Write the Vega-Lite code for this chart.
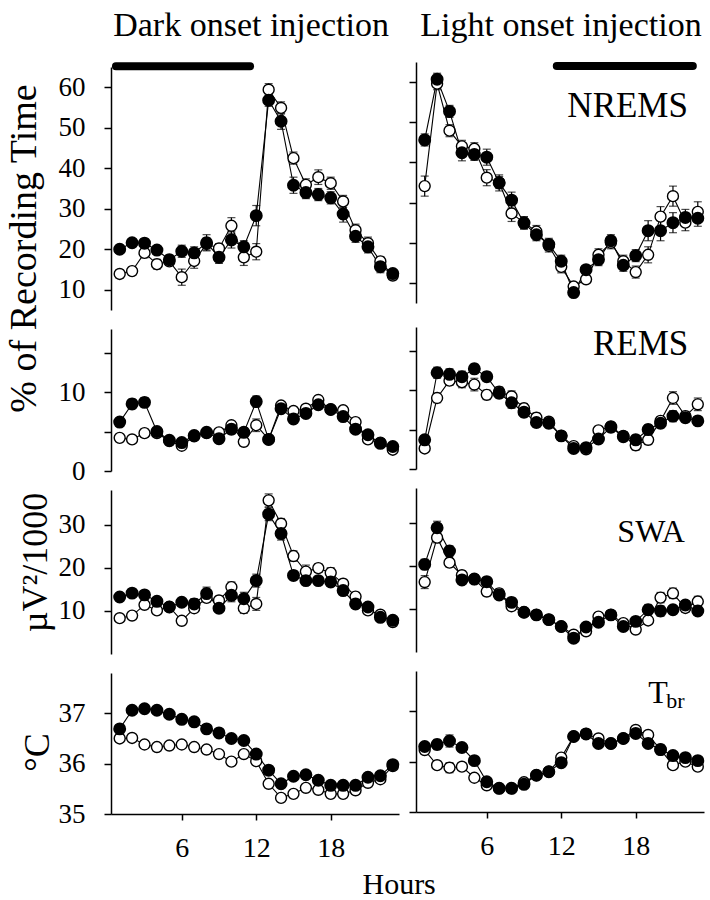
{
"$schema": "https://vega.github.io/schema/vega-lite/v6.json",
"background": "white",
"padding": {"left": 4, "top": 9, "right": 4, "bottom": 2},
"datasets": {
"nD": [
{"h":1,"s":"drug","v":20,"e":1},{"h":2,"s":"drug","v":21.6,"e":1},{"h":3,"s":"drug","v":21.5,"e":1},{"h":4,"s":"drug","v":19.8,"e":1},{"h":5,"s":"drug","v":17.4,"e":1.2},{"h":6,"s":"drug","v":19.5,"e":1.5},{"h":7,"s":"drug","v":19.1,"e":1.5},{"h":8,"s":"drug","v":21.6,"e":2},{"h":9,"s":"drug","v":18,"e":1.5},{"h":10,"s":"drug","v":22.3,"e":2},{"h":11,"s":"drug","v":20.6,"e":1.5},{"h":12,"s":"drug","v":28.3,"e":2.5},{"h":13,"s":"drug","v":56.8,"e":1.5},{"h":14,"s":"drug","v":51.6,"e":2},{"h":15,"s":"drug","v":35.8,"e":2},{"h":16,"s":"drug","v":34,"e":1.5},{"h":17,"s":"drug","v":33.5,"e":1.5},{"h":18,"s":"drug","v":32.7,"e":1.5},{"h":19,"s":"drug","v":28.7,"e":2},{"h":20,"s":"drug","v":23.2,"e":1.5},{"h":21,"s":"drug","v":20.6,"e":1.5},{"h":22,"s":"drug","v":15.7,"e":1.5},{"h":23,"s":"drug","v":14,"e":1},
{"h":1,"s":"vehicle","v":13.9,"e":1},{"h":2,"s":"vehicle","v":14.6,"e":1},{"h":3,"s":"vehicle","v":19.1,"e":1.2},{"h":4,"s":"vehicle","v":16.3,"e":1.2},{"h":5,"s":"vehicle","v":17,"e":1},{"h":6,"s":"vehicle","v":13.1,"e":2},{"h":7,"s":"vehicle","v":17.1,"e":1.8},{"h":8,"s":"vehicle","v":21.3,"e":1.5},{"h":9,"s":"vehicle","v":20.2,"e":1.2},{"h":10,"s":"vehicle","v":25.8,"e":2},{"h":11,"s":"vehicle","v":18,"e":2},{"h":12,"s":"vehicle","v":19.4,"e":2},{"h":13,"s":"vehicle","v":59.4,"e":1.5},{"h":14,"s":"vehicle","v":54.9,"e":1.5},{"h":15,"s":"vehicle","v":42.5,"e":1.5},{"h":16,"s":"vehicle","v":35.9,"e":1.5},{"h":17,"s":"vehicle","v":37.8,"e":1.8},{"h":18,"s":"vehicle","v":36.3,"e":1.5},{"h":19,"s":"vehicle","v":31.8,"e":1.5},{"h":20,"s":"vehicle","v":24.7,"e":1.5},{"h":21,"s":"vehicle","v":21.5,"e":1.5},{"h":22,"s":"vehicle","v":17,"e":1.2},{"h":23,"s":"vehicle","v":13.5,"e":1}
],
"nL": [
{"h":1,"s":"drug","v":45.6,"e":1.5},{"h":2,"s":"drug","v":60.7,"e":1.5},{"h":3,"s":"drug","v":52.7,"e":1.5},{"h":4,"s":"drug","v":42.4,"e":2},{"h":5,"s":"drug","v":42,"e":1.5},{"h":6,"s":"drug","v":41.3,"e":2},{"h":7,"s":"drug","v":34.9,"e":2},{"h":8,"s":"drug","v":30.6,"e":2},{"h":9,"s":"drug","v":24.9,"e":1.5},{"h":10,"s":"drug","v":22,"e":1.5},{"h":11,"s":"drug","v":19.6,"e":1.5},{"h":12,"s":"drug","v":15.4,"e":1.5},{"h":13,"s":"drug","v":7.6,"e":1},{"h":14,"s":"drug","v":13.3,"e":1},{"h":15,"s":"drug","v":15.8,"e":1.5},{"h":16,"s":"drug","v":20.5,"e":1.5},{"h":17,"s":"drug","v":14.4,"e":1.5},{"h":18,"s":"drug","v":16.8,"e":1.5},{"h":19,"s":"drug","v":23,"e":2.5},{"h":20,"s":"drug","v":23,"e":2.5},{"h":21,"s":"drug","v":25,"e":2.5},{"h":22,"s":"drug","v":26.3,"e":2},{"h":23,"s":"drug","v":26.1,"e":2},
{"h":1,"s":"vehicle","v":34.1,"e":2.5},{"h":2,"s":"vehicle","v":59.6,"e":1.5},{"h":3,"s":"vehicle","v":47.9,"e":1.5},{"h":4,"s":"vehicle","v":44,"e":1.5},{"h":5,"s":"vehicle","v":43.4,"e":1.5},{"h":6,"s":"vehicle","v":36.2,"e":2},{"h":7,"s":"vehicle","v":35,"e":1.5},{"h":8,"s":"vehicle","v":27.3,"e":2},{"h":9,"s":"vehicle","v":25,"e":1.5},{"h":10,"s":"vehicle","v":22.8,"e":1.5},{"h":11,"s":"vehicle","v":19.2,"e":1.5},{"h":12,"s":"vehicle","v":14,"e":1.5},{"h":13,"s":"vehicle","v":9.1,"e":1},{"h":14,"s":"vehicle","v":10.9,"e":1},{"h":15,"s":"vehicle","v":17,"e":1.5},{"h":16,"s":"vehicle","v":20,"e":1.5},{"h":17,"s":"vehicle","v":15.4,"e":1.5},{"h":18,"s":"vehicle","v":12.7,"e":1.5},{"h":19,"s":"vehicle","v":17,"e":2},{"h":20,"s":"vehicle","v":26.5,"e":2.5},{"h":21,"s":"vehicle","v":31.6,"e":2.5},{"h":22,"s":"vehicle","v":25,"e":2},{"h":23,"s":"vehicle","v":27.7,"e":2.5}
],
"rD": [
{"h":1,"s":"drug","v":6.2,"e":0.5},{"h":2,"s":"drug","v":8.5,"e":0.6},{"h":3,"s":"drug","v":8.7,"e":0.6},{"h":4,"s":"drug","v":5,"e":0.5},{"h":5,"s":"drug","v":3.9,"e":0.4},{"h":6,"s":"drug","v":3.6,"e":0.4},{"h":7,"s":"drug","v":4.5,"e":0.5},{"h":8,"s":"drug","v":4.9,"e":0.5},{"h":9,"s":"drug","v":4.1,"e":0.5},{"h":10,"s":"drug","v":5.3,"e":0.6},{"h":11,"s":"drug","v":4.9,"e":0.6},{"h":12,"s":"drug","v":8.8,"e":0.7},{"h":13,"s":"drug","v":4,"e":0.4},{"h":14,"s":"drug","v":7.9,"e":0.5},{"h":15,"s":"drug","v":6.6,"e":0.5},{"h":16,"s":"drug","v":7.3,"e":0.5},{"h":17,"s":"drug","v":8.4,"e":0.5},{"h":18,"s":"drug","v":7.8,"e":0.5},{"h":19,"s":"drug","v":6.9,"e":0.5},{"h":20,"s":"drug","v":5.3,"e":0.5},{"h":21,"s":"drug","v":4.6,"e":0.4},{"h":22,"s":"drug","v":3.5,"e":0.4},{"h":23,"s":"drug","v":3.1,"e":0.4},
{"h":1,"s":"vehicle","v":4.2,"e":0.4},{"h":2,"s":"vehicle","v":4,"e":0.4},{"h":3,"s":"vehicle","v":4.8,"e":0.5},{"h":4,"s":"vehicle","v":4.8,"e":0.4},{"h":5,"s":"vehicle","v":3.8,"e":0.4},{"h":6,"s":"vehicle","v":3.2,"e":0.4},{"h":7,"s":"vehicle","v":4.4,"e":0.4},{"h":8,"s":"vehicle","v":4.8,"e":0.4},{"h":9,"s":"vehicle","v":4.9,"e":0.4},{"h":10,"s":"vehicle","v":5.8,"e":0.5},{"h":11,"s":"vehicle","v":3.7,"e":0.5},{"h":12,"s":"vehicle","v":5.8,"e":0.8},{"h":13,"s":"vehicle","v":4,"e":0.4},{"h":14,"s":"vehicle","v":8.3,"e":0.5},{"h":15,"s":"vehicle","v":7.6,"e":0.5},{"h":16,"s":"vehicle","v":7.9,"e":0.5},{"h":17,"s":"vehicle","v":9,"e":0.5},{"h":18,"s":"vehicle","v":7.8,"e":0.5},{"h":19,"s":"vehicle","v":7.7,"e":0.5},{"h":20,"s":"vehicle","v":6.2,"e":0.5},{"h":21,"s":"vehicle","v":4,"e":0.4},{"h":22,"s":"vehicle","v":3.6,"e":0.4},{"h":23,"s":"vehicle","v":2.7,"e":0.4}
],
"rL": [
{"h":1,"s":"drug","v":3.7,"e":0.5},{"h":2,"s":"drug","v":12.2,"e":0.7},{"h":3,"s":"drug","v":12,"e":0.7},{"h":4,"s":"drug","v":11.7,"e":0.7},{"h":5,"s":"drug","v":12.7,"e":0.6},{"h":6,"s":"drug","v":11.7,"e":0.6},{"h":7,"s":"drug","v":9.6,"e":0.6},{"h":8,"s":"drug","v":8.4,"e":0.7},{"h":9,"s":"drug","v":7.2,"e":0.6},{"h":10,"s":"drug","v":5.9,"e":0.6},{"h":11,"s":"drug","v":5.8,"e":0.6},{"h":12,"s":"drug","v":4.2,"e":0.4},{"h":13,"s":"drug","v":2.6,"e":0.4},{"h":14,"s":"drug","v":2.7,"e":0.4},{"h":15,"s":"drug","v":3.8,"e":0.5},{"h":16,"s":"drug","v":5.3,"e":0.6},{"h":17,"s":"drug","v":4.1,"e":0.6},{"h":18,"s":"drug","v":3.7,"e":0.6},{"h":19,"s":"drug","v":5,"e":0.6},{"h":20,"s":"drug","v":5.8,"e":0.6},{"h":21,"s":"drug","v":6.7,"e":0.7},{"h":22,"s":"drug","v":6.5,"e":0.6},{"h":23,"s":"drug","v":6.1,"e":0.5},
{"h":1,"s":"vehicle","v":2.6,"e":0.4},{"h":2,"s":"vehicle","v":9,"e":0.6},{"h":3,"s":"vehicle","v":11.2,"e":0.6},{"h":4,"s":"vehicle","v":11,"e":0.7},{"h":5,"s":"vehicle","v":10.7,"e":0.8},{"h":6,"s":"vehicle","v":9.4,"e":0.6},{"h":7,"s":"vehicle","v":9.8,"e":0.6},{"h":8,"s":"vehicle","v":9.2,"e":0.7},{"h":9,"s":"vehicle","v":7.7,"e":0.6},{"h":10,"s":"vehicle","v":6.5,"e":0.6},{"h":11,"s":"vehicle","v":6,"e":0.5},{"h":12,"s":"vehicle","v":4.2,"e":0.4},{"h":13,"s":"vehicle","v":2.9,"e":0.4},{"h":14,"s":"vehicle","v":2.5,"e":0.4},{"h":15,"s":"vehicle","v":4.9,"e":0.5},{"h":16,"s":"vehicle","v":5.4,"e":0.5},{"h":17,"s":"vehicle","v":4.2,"e":0.5},{"h":18,"s":"vehicle","v":3,"e":0.6},{"h":19,"s":"vehicle","v":3.7,"e":0.6},{"h":20,"s":"vehicle","v":6.1,"e":0.5},{"h":21,"s":"vehicle","v":9,"e":0.8},{"h":22,"s":"vehicle","v":6.7,"e":0.6},{"h":23,"s":"vehicle","v":8.2,"e":0.8}
],
"sD": [
{"h":1,"s":"drug","v":13.2,"e":0.8},{"h":2,"s":"drug","v":14.1,"e":0.8},{"h":3,"s":"drug","v":13.7,"e":0.8},{"h":4,"s":"drug","v":12.2,"e":0.8},{"h":5,"s":"drug","v":10.9,"e":0.8},{"h":6,"s":"drug","v":12,"e":0.8},{"h":7,"s":"drug","v":11.6,"e":1.2},{"h":8,"s":"drug","v":14,"e":1.5},{"h":9,"s":"drug","v":10.6,"e":1},{"h":10,"s":"drug","v":13.6,"e":1.5},{"h":11,"s":"drug","v":12.8,"e":1.5},{"h":12,"s":"drug","v":17,"e":1.5},{"h":13,"s":"drug","v":32.4,"e":1.5},{"h":14,"s":"drug","v":27.9,"e":1.5},{"h":15,"s":"drug","v":18.2,"e":1},{"h":16,"s":"drug","v":17,"e":1},{"h":17,"s":"drug","v":17,"e":1},{"h":18,"s":"drug","v":16.7,"e":1},{"h":19,"s":"drug","v":14.7,"e":1},{"h":20,"s":"drug","v":11.6,"e":1},{"h":21,"s":"drug","v":10.9,"e":1},{"h":22,"s":"drug","v":8.5,"e":0.8},{"h":23,"s":"drug","v":7.8,"e":0.8},
{"h":1,"s":"vehicle","v":8.3,"e":0.8},{"h":2,"s":"vehicle","v":8.9,"e":0.8},{"h":3,"s":"vehicle","v":11.4,"e":0.8},{"h":4,"s":"vehicle","v":10.1,"e":0.8},{"h":5,"s":"vehicle","v":10.9,"e":0.8},{"h":6,"s":"vehicle","v":7.7,"e":0.8},{"h":7,"s":"vehicle","v":10.6,"e":1},{"h":8,"s":"vehicle","v":13,"e":1},{"h":9,"s":"vehicle","v":12.4,"e":1},{"h":10,"s":"vehicle","v":15.5,"e":1.2},{"h":11,"s":"vehicle","v":10.6,"e":1.2},{"h":12,"s":"vehicle","v":11.6,"e":1.5},{"h":13,"s":"vehicle","v":35.6,"e":1.5},{"h":14,"s":"vehicle","v":30.2,"e":1.2},{"h":15,"s":"vehicle","v":22.7,"e":1.2},{"h":16,"s":"vehicle","v":19.1,"e":1.5},{"h":17,"s":"vehicle","v":19.9,"e":1},{"h":18,"s":"vehicle","v":18.8,"e":1.2},{"h":19,"s":"vehicle","v":16.3,"e":1},{"h":20,"s":"vehicle","v":13.3,"e":1},{"h":21,"s":"vehicle","v":10.1,"e":0.8},{"h":22,"s":"vehicle","v":9.1,"e":0.8},{"h":23,"s":"vehicle","v":7.4,"e":0.8}
],
"sL": [
{"h":1,"s":"drug","v":20.3,"e":1.2},{"h":2,"s":"drug","v":28.8,"e":1.5},{"h":3,"s":"drug","v":23.4,"e":1.2},{"h":4,"s":"drug","v":16.7,"e":1},{"h":5,"s":"drug","v":16.9,"e":1},{"h":6,"s":"drug","v":16.3,"e":1},{"h":7,"s":"drug","v":13.2,"e":1},{"h":8,"s":"drug","v":11.5,"e":1},{"h":9,"s":"drug","v":9.2,"e":0.8},{"h":10,"s":"drug","v":8.6,"e":0.8},{"h":11,"s":"drug","v":7.5,"e":0.8},{"h":12,"s":"drug","v":5.9,"e":0.8},{"h":13,"s":"drug","v":3.2,"e":0.8},{"h":14,"s":"drug","v":5.8,"e":0.8},{"h":15,"s":"drug","v":6.9,"e":0.8},{"h":16,"s":"drug","v":8.6,"e":0.8},{"h":17,"s":"drug","v":5.9,"e":0.8},{"h":18,"s":"drug","v":7.1,"e":0.8},{"h":19,"s":"drug","v":9.8,"e":1.2},{"h":20,"s":"drug","v":9.5,"e":1.2},{"h":21,"s":"drug","v":9.8,"e":1},{"h":22,"s":"drug","v":10.9,"e":1},{"h":23,"s":"drug","v":9.5,"e":1},
{"h":1,"s":"vehicle","v":16.2,"e":1.5},{"h":2,"s":"vehicle","v":26.5,"e":1.2},{"h":3,"s":"vehicle","v":20.7,"e":1},{"h":4,"s":"vehicle","v":17.8,"e":1},{"h":5,"s":"vehicle","v":16.9,"e":1},{"h":6,"s":"vehicle","v":14,"e":1},{"h":7,"s":"vehicle","v":13.6,"e":1},{"h":8,"s":"vehicle","v":10.6,"e":1},{"h":9,"s":"vehicle","v":9.2,"e":0.8},{"h":10,"s":"vehicle","v":8.6,"e":0.8},{"h":11,"s":"vehicle","v":7.5,"e":0.8},{"h":12,"s":"vehicle","v":5.9,"e":0.8},{"h":13,"s":"vehicle","v":4,"e":0.8},{"h":14,"s":"vehicle","v":4.8,"e":0.8},{"h":15,"s":"vehicle","v":8.2,"e":0.8},{"h":16,"s":"vehicle","v":8.6,"e":0.8},{"h":17,"s":"vehicle","v":6.7,"e":0.8},{"h":18,"s":"vehicle","v":5.2,"e":0.8},{"h":19,"s":"vehicle","v":7.3,"e":0.8},{"h":20,"s":"vehicle","v":12.6,"e":1.2},{"h":21,"s":"vehicle","v":13.6,"e":1.2},{"h":22,"s":"vehicle","v":10.2,"e":1},{"h":23,"s":"vehicle","v":11.7,"e":1.2}
],
"tD": [
{"h":1,"s":"drug","v":36.69,"e":0.05},{"h":2,"s":"drug","v":37.06,"e":0.05},{"h":3,"s":"drug","v":37.09,"e":0.05},{"h":4,"s":"drug","v":37.06,"e":0.05},{"h":5,"s":"drug","v":36.98,"e":0.05},{"h":6,"s":"drug","v":36.88,"e":0.05},{"h":7,"s":"drug","v":36.83,"e":0.05},{"h":8,"s":"drug","v":36.69,"e":0.05},{"h":9,"s":"drug","v":36.61,"e":0.05},{"h":10,"s":"drug","v":36.5,"e":0.05},{"h":11,"s":"drug","v":36.46,"e":0.05},{"h":12,"s":"drug","v":36.19,"e":0.05},{"h":13,"s":"drug","v":35.87,"e":0.05},{"h":14,"s":"drug","v":35.6,"e":0.05},{"h":15,"s":"drug","v":35.75,"e":0.05},{"h":16,"s":"drug","v":35.78,"e":0.05},{"h":17,"s":"drug","v":35.67,"e":0.05},{"h":18,"s":"drug","v":35.57,"e":0.05},{"h":19,"s":"drug","v":35.57,"e":0.05},{"h":20,"s":"drug","v":35.57,"e":0.05},{"h":21,"s":"drug","v":35.73,"e":0.05},{"h":22,"s":"drug","v":35.76,"e":0.05},{"h":23,"s":"drug","v":35.98,"e":0.05},
{"h":1,"s":"vehicle","v":36.5,"e":0.05},{"h":2,"s":"vehicle","v":36.51,"e":0.05},{"h":3,"s":"vehicle","v":36.38,"e":0.05},{"h":4,"s":"vehicle","v":36.33,"e":0.05},{"h":5,"s":"vehicle","v":36.36,"e":0.05},{"h":6,"s":"vehicle","v":36.38,"e":0.05},{"h":7,"s":"vehicle","v":36.33,"e":0.05},{"h":8,"s":"vehicle","v":36.28,"e":0.05},{"h":9,"s":"vehicle","v":36.19,"e":0.05},{"h":10,"s":"vehicle","v":36.04,"e":0.05},{"h":11,"s":"vehicle","v":36.19,"e":0.05},{"h":12,"s":"vehicle","v":36.05,"e":0.05},{"h":13,"s":"vehicle","v":35.6,"e":0.05},{"h":14,"s":"vehicle","v":35.32,"e":0.05},{"h":15,"s":"vehicle","v":35.4,"e":0.05},{"h":16,"s":"vehicle","v":35.52,"e":0.05},{"h":17,"s":"vehicle","v":35.48,"e":0.05},{"h":18,"s":"vehicle","v":35.4,"e":0.05},{"h":19,"s":"vehicle","v":35.4,"e":0.05},{"h":20,"s":"vehicle","v":35.47,"e":0.05},{"h":21,"s":"vehicle","v":35.62,"e":0.05},{"h":22,"s":"vehicle","v":35.69,"e":0.05},{"h":23,"s":"vehicle","v":35.95,"e":0.05}
],
"tL": [
{"h":1,"s":"drug","v":36.3,"e":0.05},{"h":2,"s":"drug","v":36.34,"e":0.1},{"h":3,"s":"drug","v":36.41,"e":0.12},{"h":4,"s":"drug","v":36.28,"e":0.06},{"h":5,"s":"drug","v":36.02,"e":0.05},{"h":6,"s":"drug","v":35.6,"e":0.05},{"h":7,"s":"drug","v":35.47,"e":0.05},{"h":8,"s":"drug","v":35.47,"e":0.05},{"h":9,"s":"drug","v":35.55,"e":0.05},{"h":10,"s":"drug","v":35.73,"e":0.05},{"h":11,"s":"drug","v":35.8,"e":0.05},{"h":12,"s":"drug","v":35.98,"e":0.05},{"h":13,"s":"drug","v":36.5,"e":0.05},{"h":14,"s":"drug","v":36.55,"e":0.05},{"h":15,"s":"drug","v":36.36,"e":0.05},{"h":16,"s":"drug","v":36.36,"e":0.05},{"h":17,"s":"drug","v":36.46,"e":0.05},{"h":18,"s":"drug","v":36.56,"e":0.05},{"h":19,"s":"drug","v":36.36,"e":0.06},{"h":20,"s":"drug","v":36.24,"e":0.1},{"h":21,"s":"drug","v":36.12,"e":0.05},{"h":22,"s":"drug","v":36.08,"e":0.05},{"h":23,"s":"drug","v":36.02,"e":0.05},
{"h":1,"s":"vehicle","v":36.23,"e":0.05},{"h":2,"s":"vehicle","v":35.93,"e":0.08},{"h":3,"s":"vehicle","v":35.88,"e":0.1},{"h":4,"s":"vehicle","v":35.9,"e":0.06},{"h":5,"s":"vehicle","v":35.68,"e":0.05},{"h":6,"s":"vehicle","v":35.53,"e":0.05},{"h":7,"s":"vehicle","v":35.47,"e":0.05},{"h":8,"s":"vehicle","v":35.47,"e":0.05},{"h":9,"s":"vehicle","v":35.59,"e":0.05},{"h":10,"s":"vehicle","v":35.73,"e":0.05},{"h":11,"s":"vehicle","v":35.8,"e":0.05},{"h":12,"s":"vehicle","v":36.08,"e":0.05},{"h":13,"s":"vehicle","v":36.5,"e":0.05},{"h":14,"s":"vehicle","v":36.55,"e":0.05},{"h":15,"s":"vehicle","v":36.46,"e":0.05},{"h":16,"s":"vehicle","v":36.36,"e":0.05},{"h":17,"s":"vehicle","v":36.46,"e":0.05},{"h":18,"s":"vehicle","v":36.63,"e":0.05},{"h":19,"s":"vehicle","v":36.53,"e":0.05},{"h":20,"s":"vehicle","v":36.24,"e":0.05},{"h":21,"s":"vehicle","v":35.93,"e":0.05},{"h":22,"s":"vehicle","v":36,"e":0.05},{"h":23,"s":"vehicle","v":35.9,"e":0.05}
],
"barD": [{"h":0.7,"h2":11.5,"v":65.2}],
"barL": [{"h":11.64,"h2":22.6,"v":64.0}],
"ttlD": [{"h":11.58,"v":72.65,"t":"Dark onset injection"}],
"ttlL": [{"h":11.98,"v":71.47,"t":"Light onset injection"}],
"labN": [{"h":17.35,"v":51.2,"t":"NREMS"}],
"labR": [{"h":18.39,"v":14.45,"t":"REMS"}],
"labS": [{"h":19.24,"v":25.5,"t":"SWA"}],
"labT": [{"h":19.0,"v":37.17,"t":"T"}],
"labTs": [{"h":20.45,"v":37.07,"t":"br"}]
},
"title": {"text": "Hours", "orient": "bottom", "anchor": "middle", "fontSize": 30, "offset": 8, "dx": 43},
"spacing": 5,
"bounds": "full",
"hconcat": [
{
"spacing": 19,
"bounds": "flush",
"vconcat": [
{"width": 288, "height": 248,
 "encoding": {"x": {"field": "h", "type": "quantitative", "scale": {"domain": [0.3, 23.5], "nice": false, "zero": false}, "axis": null},
  "y": {"field": "v", "type": "quantitative", "scale": {"domain": [5, 65], "range": [248, 5], "nice": false, "zero": false}, "axis": {"values": [10,20,30,40,50,60], "title": "% of Recording Time", "titleFontSize": 38, "titleX": -87, "titleY": 186, "titleAngle": -90, "titleAlign": "center", "titleBaseline": "middle"}}},
 "layer": [
  {"data": {"name": "nD"}, "mark": {"type": "errorbar", "ticks": {"size": 8}, "color": "black", "thickness": 1.2}, "encoding": {"yError": {"field": "e"}}},
  {"data": {"name": "nD"}, "mark": {"type": "line", "color": "black", "strokeWidth": 1.1}, "encoding": {"detail": {"field": "s"}}},
  {"data": {"name": "nD"}, "transform": [{"filter": "datum.s == 'vehicle'"}], "mark": {"type": "point", "shape": "circle", "filled": true, "fill": "white", "stroke": "black", "strokeWidth": 1.4, "size": 120, "opacity": 1}},
  {"data": {"name": "nD"}, "transform": [{"filter": "datum.s == 'drug'"}], "mark": {"type": "point", "shape": "circle", "filled": true, "fill": "black", "stroke": "black", "size": 120, "opacity": 1}},
  {"data": {"name": "barD"}, "mark": {"type": "rule", "strokeWidth": 8, "strokeCap": "round", "color": "black"}, "encoding": {"x2": {"field": "h2"}}},
  {"data": {"name": "ttlD"}, "mark": {"type": "text", "fontSize": 34, "align": "center", "baseline": "alphabetic", "color": "black"}, "encoding": {"text": {"field": "t"}}}
 ]},
{"width": 288, "height": 142,
 "encoding": {"x": {"field": "h", "type": "quantitative", "scale": {"domain": [0.3, 23.5], "nice": false, "zero": false}, "axis": null},
  "y": {"field": "v", "type": "quantitative", "scale": {"domain": [0, 18], "nice": false, "zero": false}, "axis": {"values": [0,5,10,15], "labelExpr": "datum.value % 10 === 0 ? datum.label : ''", "title": null}}},
 "layer": [
  {"data": {"name": "rD"}, "mark": {"type": "errorbar", "ticks": {"size": 8}, "color": "black", "thickness": 1.2}, "encoding": {"yError": {"field": "e"}}},
  {"data": {"name": "rD"}, "mark": {"type": "line", "color": "black", "strokeWidth": 1.1}, "encoding": {"detail": {"field": "s"}}},
  {"data": {"name": "rD"}, "transform": [{"filter": "datum.s == 'vehicle'"}], "mark": {"type": "point", "shape": "circle", "filled": true, "fill": "white", "stroke": "black", "strokeWidth": 1.4, "size": 120, "opacity": 1}},
  {"data": {"name": "rD"}, "transform": [{"filter": "datum.s == 'drug'"}], "mark": {"type": "point", "shape": "circle", "filled": true, "fill": "black", "stroke": "black", "size": 120, "opacity": 1}}
 ]},
{"width": 288, "height": 164,
 "encoding": {"x": {"field": "h", "type": "quantitative", "scale": {"domain": [0.3, 23.5], "nice": false, "zero": false}, "axis": null},
  "y": {"field": "v", "type": "quantitative", "scale": {"domain": [0, 38], "nice": false, "zero": false}, "axis": {"values": [10,20,30], "title": "µV²/1000", "titleX": -76, "titleY": 72, "titleAngle": -90, "titleAlign": "center", "titleBaseline": "middle"}}},
 "layer": [
  {"data": {"name": "sD"}, "mark": {"type": "errorbar", "ticks": {"size": 8}, "color": "black", "thickness": 1.2}, "encoding": {"yError": {"field": "e"}}},
  {"data": {"name": "sD"}, "mark": {"type": "line", "color": "black", "strokeWidth": 1.1}, "encoding": {"detail": {"field": "s"}}},
  {"data": {"name": "sD"}, "transform": [{"filter": "datum.s == 'vehicle'"}], "mark": {"type": "point", "shape": "circle", "filled": true, "fill": "white", "stroke": "black", "strokeWidth": 1.4, "size": 120, "opacity": 1}},
  {"data": {"name": "sD"}, "transform": [{"filter": "datum.s == 'drug'"}], "mark": {"type": "point", "shape": "circle", "filled": true, "fill": "black", "stroke": "black", "size": 120, "opacity": 1}}
 ]},
{"width": 288, "height": 141,
 "encoding": {"x": {"field": "h", "type": "quantitative", "scale": {"domain": [0.3, 23.5], "nice": false, "zero": false}, "axis": {"values": [6,12,18], "title": null}},
  "y": {"field": "v", "type": "quantitative", "scale": {"domain": [35, 37.8], "nice": false, "zero": false}, "axis": {"values": [35,36,37], "title": "°C", "titleX": -74, "titleY": 79, "titleAngle": -90, "titleAlign": "center", "titleBaseline": "middle"}}},
 "layer": [
  {"data": {"name": "tD"}, "mark": {"type": "errorbar", "ticks": {"size": 8}, "color": "black", "thickness": 1.2}, "encoding": {"yError": {"field": "e"}}},
  {"data": {"name": "tD"}, "mark": {"type": "line", "color": "black", "strokeWidth": 1.1}, "encoding": {"detail": {"field": "s"}}},
  {"data": {"name": "tD"}, "transform": [{"filter": "datum.s == 'vehicle'"}], "mark": {"type": "point", "shape": "circle", "filled": true, "fill": "white", "stroke": "black", "strokeWidth": 1.4, "size": 120, "opacity": 1}},
  {"data": {"name": "tD"}, "transform": [{"filter": "datum.s == 'drug'"}], "mark": {"type": "point", "shape": "circle", "filled": true, "fill": "black", "stroke": "black", "size": 120, "opacity": 1}}
 ]}
]
},
{
"spacing": 19,
"bounds": "flush",
"vconcat": [
{"width": 288, "height": 246,
 "encoding": {"x": {"field": "h", "type": "quantitative", "scale": {"domain": [0.3, 23.5], "nice": false, "zero": false}, "axis": null},
  "y": {"field": "v", "type": "quantitative", "scale": {"domain": [5, 65], "range": [241, 0], "nice": false, "zero": false}, "axis": {"values": [10,20,30,40,50,60], "labels": false, "title": null}}},
 "layer": [
  {"data": {"name": "nL"}, "mark": {"type": "errorbar", "ticks": {"size": 8}, "color": "black", "thickness": 1.2}, "encoding": {"yError": {"field": "e"}}},
  {"data": {"name": "nL"}, "mark": {"type": "line", "color": "black", "strokeWidth": 1.1}, "encoding": {"detail": {"field": "s"}}},
  {"data": {"name": "nL"}, "transform": [{"filter": "datum.s == 'vehicle'"}], "mark": {"type": "point", "shape": "circle", "filled": true, "fill": "white", "stroke": "black", "strokeWidth": 1.4, "size": 120, "opacity": 1}},
  {"data": {"name": "nL"}, "transform": [{"filter": "datum.s == 'drug'"}], "mark": {"type": "point", "shape": "circle", "filled": true, "fill": "black", "stroke": "black", "size": 120, "opacity": 1}},
  {"data": {"name": "barL"}, "mark": {"type": "rule", "strokeWidth": 8, "strokeCap": "round", "color": "black"}, "encoding": {"x2": {"field": "h2"}}},
  {"data": {"name": "ttlL"}, "mark": {"type": "text", "fontSize": 34, "align": "center", "baseline": "alphabetic", "color": "black"}, "encoding": {"text": {"field": "t"}}},
  {"data": {"name": "labN"}, "mark": {"type": "text", "fontSize": 35, "align": "center", "baseline": "alphabetic", "color": "black"}, "encoding": {"text": {"field": "t"}}}
 ]},
{"width": 288, "height": 142,
 "encoding": {"x": {"field": "h", "type": "quantitative", "scale": {"domain": [0.3, 23.5], "nice": false, "zero": false}, "axis": null},
  "y": {"field": "v", "type": "quantitative", "scale": {"domain": [0, 18], "nice": false, "zero": false}, "axis": {"values": [0,5,10,15], "labels": false, "title": null}}},
 "layer": [
  {"data": {"name": "rL"}, "mark": {"type": "errorbar", "ticks": {"size": 8}, "color": "black", "thickness": 1.2}, "encoding": {"yError": {"field": "e"}}},
  {"data": {"name": "rL"}, "mark": {"type": "line", "color": "black", "strokeWidth": 1.1}, "encoding": {"detail": {"field": "s"}}},
  {"data": {"name": "rL"}, "transform": [{"filter": "datum.s == 'vehicle'"}], "mark": {"type": "point", "shape": "circle", "filled": true, "fill": "white", "stroke": "black", "strokeWidth": 1.4, "size": 120, "opacity": 1}},
  {"data": {"name": "rL"}, "transform": [{"filter": "datum.s == 'drug'"}], "mark": {"type": "point", "shape": "circle", "filled": true, "fill": "black", "stroke": "black", "size": 120, "opacity": 1}},
  {"data": {"name": "labR"}, "mark": {"type": "text", "fontSize": 35, "align": "center", "baseline": "alphabetic", "color": "black"}, "encoding": {"text": {"field": "t"}}}
 ]},
{"width": 288, "height": 164,
 "encoding": {"x": {"field": "h", "type": "quantitative", "scale": {"domain": [0.3, 23.5], "nice": false, "zero": false}, "axis": null},
  "y": {"field": "v", "type": "quantitative", "scale": {"domain": [0, 38], "nice": false, "zero": false}, "axis": {"values": [10,20,30], "labels": false, "title": null}}},
 "layer": [
  {"data": {"name": "sL"}, "mark": {"type": "errorbar", "ticks": {"size": 8}, "color": "black", "thickness": 1.2}, "encoding": {"yError": {"field": "e"}}},
  {"data": {"name": "sL"}, "mark": {"type": "line", "color": "black", "strokeWidth": 1.1}, "encoding": {"detail": {"field": "s"}}},
  {"data": {"name": "sL"}, "transform": [{"filter": "datum.s == 'vehicle'"}], "mark": {"type": "point", "shape": "circle", "filled": true, "fill": "white", "stroke": "black", "strokeWidth": 1.4, "size": 120, "opacity": 1}},
  {"data": {"name": "sL"}, "transform": [{"filter": "datum.s == 'drug'"}], "mark": {"type": "point", "shape": "circle", "filled": true, "fill": "black", "stroke": "black", "size": 120, "opacity": 1}},
  {"data": {"name": "labS"}, "mark": {"type": "text", "fontSize": 32, "align": "center", "baseline": "alphabetic", "color": "black", "letterSpacing": 4}, "encoding": {"text": {"field": "t"}}}
 ]},
{"width": 288, "height": 141,
 "encoding": {"x": {"field": "h", "type": "quantitative", "scale": {"domain": [0.3, 23.5], "nice": false, "zero": false}, "axis": {"values": [6,12,18], "title": null}},
  "y": {"field": "v", "type": "quantitative", "scale": {"domain": [35, 37.8], "nice": false, "zero": false}, "axis": {"values": [35,36,37], "labels": false, "title": null}}},
 "layer": [
  {"data": {"name": "tL"}, "mark": {"type": "errorbar", "ticks": {"size": 8}, "color": "black", "thickness": 1.2}, "encoding": {"yError": {"field": "e"}}},
  {"data": {"name": "tL"}, "mark": {"type": "line", "color": "black", "strokeWidth": 1.1}, "encoding": {"detail": {"field": "s"}}},
  {"data": {"name": "tL"}, "transform": [{"filter": "datum.s == 'vehicle'"}], "mark": {"type": "point", "shape": "circle", "filled": true, "fill": "white", "stroke": "black", "strokeWidth": 1.4, "size": 120, "opacity": 1}},
  {"data": {"name": "tL"}, "transform": [{"filter": "datum.s == 'drug'"}], "mark": {"type": "point", "shape": "circle", "filled": true, "fill": "black", "stroke": "black", "size": 120, "opacity": 1}},
  {"data": {"name": "labT"}, "mark": {"type": "text", "fontSize": 32, "align": "left", "baseline": "alphabetic", "color": "black"}, "encoding": {"text": {"field": "t"}}},
  {"data": {"name": "labTs"}, "mark": {"type": "text", "fontSize": 22, "align": "left", "baseline": "alphabetic", "color": "black"}, "encoding": {"text": {"field": "t"}}}
 ]}
]
}
],
"config": {
 "font": "Liberation Serif",
 "view": {"stroke": null},
 "title": {"font": "Liberation Serif", "fontWeight": "normal", "color": "black"},
 "axis": {"grid": false, "domainColor": "black", "domainWidth": 1.5, "tickColor": "black", "tickWidth": 1.5, "tickSize": 7, "labelColor": "black", "labelFont": "Liberation Serif", "labelFontSize": 27, "labelPadding": 19, "titleFont": "Liberation Serif", "titleFontSize": 36, "titleFontWeight": "normal", "titleColor": "black"},
 "axisX": {"labelFontSize": 28, "tickSize": 6, "labelPadding": 14},
 "text": {"font": "Liberation Serif"}
}
}
